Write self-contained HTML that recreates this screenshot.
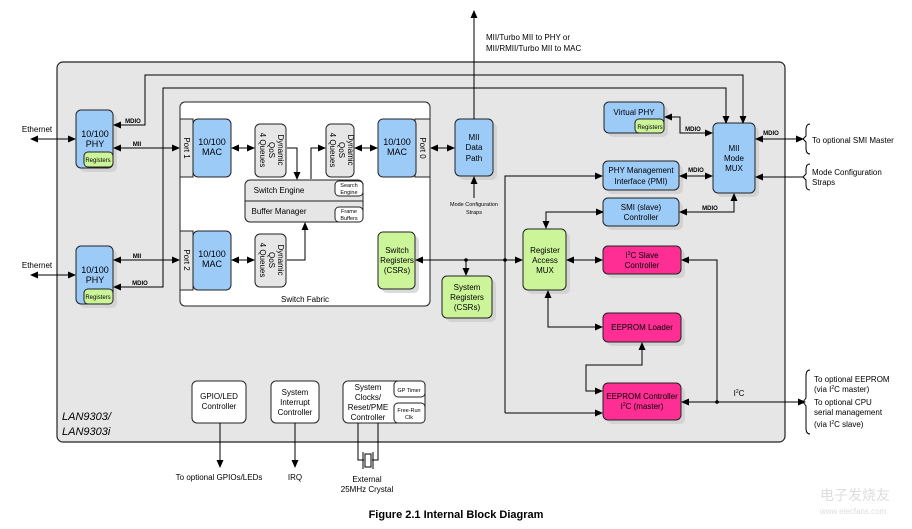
<!DOCTYPE html>
<html><head><meta charset="utf-8"><style>
body{margin:0;background:#fff}
svg{display:block;font-family:"Liberation Sans",Arial,sans-serif}
</style></head><body>
<svg width="912" height="529" viewBox="0 0 912 529">
<defs>
<marker id="a" markerWidth="8" markerHeight="8" refX="7" refY="4" orient="auto" markerUnits="userSpaceOnUse"><path d="M0,0.5 L8,4 L0,7.5z" fill="#000"/></marker>
<marker id="s" markerWidth="8" markerHeight="8" refX="1" refY="4" orient="auto" markerUnits="userSpaceOnUse"><path d="M8,0.5 L0,4 L8,7.5z" fill="#000"/></marker>
</defs>
<rect x="57" y="62" width="728" height="380" rx="6" fill="#e6e6e6" stroke="#222" stroke-width="1.2"/>
<rect x="180" y="102" width="250" height="204" rx="5" fill="#fff" stroke="#222"/>
<g fill="#ccc" opacity="0.7">
<rect x="80" y="114" width="37" height="58" rx="5"/><rect x="80" y="250" width="37" height="58" rx="5"/>
<rect x="459" y="123" width="38" height="57" rx="5"/><rect x="608" y="106" width="60" height="31" rx="5"/>
<rect x="717" y="127" width="42" height="70" rx="5"/><rect x="607" y="165" width="76" height="29" rx="5"/>
<rect x="607" y="202" width="76" height="28" rx="5"/><rect x="527" y="233" width="43" height="61" rx="5"/>
<rect x="607" y="250" width="78" height="28" rx="5"/><rect x="607" y="317" width="78" height="29" rx="5"/>
<rect x="607" y="387" width="78" height="37" rx="5"/><rect x="446" y="280" width="50" height="42" rx="5"/>
<rect x="382" y="236" width="37" height="57" rx="5"/>
</g>
<g stroke="#222" stroke-width="1">
<rect x="76" y="110" width="37" height="58" rx="5" fill="#9dcbf8"/>
<rect x="84" y="152" width="29" height="15" rx="4" fill="#ccf59a"/>
<rect x="76" y="246" width="37" height="58" rx="5" fill="#9dcbf8"/>
<rect x="84" y="289" width="29" height="15" rx="4" fill="#ccf59a"/>
<rect x="180" y="119" width="13" height="58" fill="#e6e6e6"/>
<rect x="193" y="119" width="38" height="58" rx="5" fill="#9dcbf8"/>
<rect x="255" y="124" width="31" height="53" rx="5" fill="#e6e6e6"/>
<rect x="326" y="124" width="28" height="53" rx="5" fill="#e6e6e6"/>
<rect x="415" y="119" width="15" height="58" fill="#e6e6e6"/>
<rect x="378" y="119" width="38" height="58" rx="5" fill="#9dcbf8"/>
<rect x="245" y="180" width="118" height="42" rx="5" fill="#e6e6e6"/>
<line x1="245" y1="201" x2="363" y2="201"/>
<rect x="335" y="181" width="28" height="15" rx="4" fill="#fff"/>
<rect x="335" y="207" width="28" height="15" rx="4" fill="#fff"/>
<rect x="180" y="231" width="13" height="59" fill="#e6e6e6"/>
<rect x="193" y="231" width="38" height="59" rx="5" fill="#9dcbf8"/>
<rect x="255" y="234" width="31" height="53" rx="5" fill="#e6e6e6"/>
<rect x="378" y="232" width="37" height="57" rx="5" fill="#ccf59a"/>
<rect x="455" y="119" width="38" height="57" rx="5" fill="#9dcbf8"/>
<rect x="604" y="102" width="60" height="31" rx="5" fill="#9dcbf8"/>
<rect x="635" y="119" width="29" height="14" rx="4" fill="#ccf59a"/>
<rect x="713" y="123" width="42" height="70" rx="5" fill="#9dcbf8"/>
<rect x="603" y="161" width="76" height="29" rx="5" fill="#9dcbf8"/>
<rect x="603" y="198" width="76" height="28" rx="5" fill="#9dcbf8"/>
<rect x="523" y="229" width="43" height="61" rx="5" fill="#ccf59a"/>
<rect x="603" y="246" width="78" height="28" rx="5" fill="#fe2e95"/>
<rect x="442" y="276" width="50" height="42" rx="5" fill="#ccf59a"/>
<rect x="603" y="313" width="78" height="29" rx="5" fill="#fe2e95"/>
<rect x="603" y="383" width="78" height="37" rx="5" fill="#fe2e95"/>
<rect x="192" y="381" width="54" height="42" rx="5" fill="#fff"/>
<rect x="271" y="381" width="48" height="42" rx="5" fill="#fff"/>
<rect x="343" y="381" width="82" height="42" rx="5" fill="#fff"/>
<rect x="394" y="381" width="31" height="16" rx="4" fill="#fff"/>
<rect x="394" y="403" width="31" height="20" rx="4" fill="#fff"/>
</g>
<g stroke="#000" stroke-width="1" fill="none">
<line x1="31" y1="139" x2="75" y2="139" marker-start="url(#s)" marker-end="url(#a)"/>
<line x1="31" y1="275" x2="75" y2="275" marker-start="url(#s)" marker-end="url(#a)"/>
<polyline points="743,123 743,75 145,75 145,125 114,125" marker-end="url(#a)" marker-start="url(#s)"/>
<polyline points="726,123 726,88 163,88 163,287 114,287" marker-end="url(#a)" marker-start="url(#s)"/>
<line x1="114" y1="148" x2="179" y2="148" marker-start="url(#s)" marker-end="url(#a)"/>
<line x1="114" y1="260" x2="179" y2="260" marker-start="url(#s)" marker-end="url(#a)"/>
<line x1="232" y1="148" x2="254" y2="148" marker-start="url(#s)" marker-end="url(#a)"/>
<line x1="355" y1="148" x2="377" y2="148" marker-start="url(#s)" marker-end="url(#a)"/>
<line x1="232" y1="260" x2="254" y2="260" marker-start="url(#s)" marker-end="url(#a)"/>
<polyline points="287,148 297,148 297,179" marker-end="url(#a)"/>
<polyline points="311,179 311,148 325,148" marker-end="url(#a)"/>
<polyline points="287,260 305,260 305,223" marker-end="url(#a)"/>
<line x1="431" y1="148" x2="454" y2="148" marker-start="url(#s)" marker-end="url(#a)"/>
<line x1="474" y1="119" x2="474" y2="11" marker-end="url(#a)"/>
<line x1="474" y1="198" x2="474" y2="177" marker-end="url(#a)"/>
<polyline points="712,133 680,133 680,117 665,117" marker-end="url(#a)"/>
<line x1="680" y1="133" x2="712" y2="133" marker-end="url(#a)"/>
<line x1="680" y1="176" x2="712" y2="176" marker-start="url(#s)" marker-end="url(#a)"/>
<polyline points="734,194 734,212 680,212" marker-start="url(#s)" marker-end="url(#a)"/>
<line x1="756" y1="139" x2="803" y2="139" marker-start="url(#s)" marker-end="url(#a)"/>
<line x1="803" y1="177" x2="756" y2="177" marker-end="url(#a)"/>
<polyline points="603,212 546,212 546,228" marker-start="url(#s)" marker-end="url(#a)"/>
<polyline points="505,413 505,176 602,176" marker-end="url(#a)"/>
<line x1="505" y1="413" x2="602" y2="413" marker-end="url(#a)"/>
<line x1="416" y1="260" x2="522" y2="260" marker-start="url(#s)" marker-end="url(#a)"/>
<line x1="466" y1="260" x2="466" y2="275" marker-end="url(#a)"/>
<line x1="567" y1="260" x2="602" y2="260" marker-start="url(#s)" marker-end="url(#a)"/>
<polyline points="717,402 717,260 682,260" marker-end="url(#a)"/>
<line x1="682" y1="402" x2="805" y2="402" marker-start="url(#s)" marker-end="url(#a)"/>
<polyline points="602,327 548,327 548,291" marker-end="url(#a)" marker-start="url(#s)"/>
<polyline points="602,391 586,391 586,365 642,365 642,343" marker-start="url(#s)" marker-end="url(#a)"/>
<line x1="220" y1="423" x2="220" y2="467" marker-end="url(#a)"/>
<line x1="295" y1="423" x2="295" y2="467" marker-end="url(#a)"/>
<polyline points="358,423 358,460 364,460"/><polyline points="378,423 378,460 372,460"/>
<rect x="365" y="454" width="6" height="13"/><line x1="363" y1="452" x2="363" y2="469"/><line x1="373" y1="452" x2="373" y2="469"/>
<path d="M810,124 q-4,0 -4,6 v6 l-3,3 l3,3 v6 q0,6 4,6"/>
<path d="M810,164 q-4,0 -4,5 v5 l-3,3 l3,3 v5 q0,5 4,5"/>
<path d="M810,370 q-4,0 -4,6 v22 l-3,4 l3,4 v22 q0,6 4,6"/>
</g>
<g fill="#000"><circle cx="466" cy="260" r="1.8"/><circle cx="505" cy="260" r="1.8"/><circle cx="717" cy="402" r="1.8"/></g>
<g font-size="8" text-anchor="middle" fill="#000">
<text x="37" y="132">Ethernet</text><text x="37" y="268">Ethernet</text>
<text x="95" y="137" font-size="9">10/100</text><text x="95" y="147" font-size="9">PHY</text>
<text x="98" y="162" font-size="6">Registers</text>
<text x="95" y="273" font-size="9">10/100</text><text x="95" y="283" font-size="9">PHY</text>
<text x="98" y="299" font-size="6">Registers</text>
<text x="133" y="123" font-size="6" font-weight="bold">MDIO</text>
<text x="137" y="146" font-size="6" font-weight="bold">MII</text>
<text x="137" y="258" font-size="6" font-weight="bold">MII</text>
<text x="140" y="285" font-size="6" font-weight="bold">MDIO</text>
<text x="212" y="145" font-size="9">10/100</text><text x="212" y="155" font-size="9">MAC</text>
<text x="397" y="145" font-size="9">10/100</text><text x="397" y="155" font-size="9">MAC</text>
<text x="212" y="257" font-size="9">10/100</text><text x="212" y="267" font-size="9">MAC</text>
<text transform="translate(184,148) rotate(90)" font-size="8">Port 1</text>
<text transform="translate(184,260) rotate(90)" font-size="8">Port 2</text>
<text transform="translate(420,148) rotate(90)" font-size="8">Port 0</text>
<g font-size="8">
<text transform="translate(270,150) rotate(90)"><tspan x="0" dy="-8">Dynamic</tspan><tspan x="0" dy="9">QoS</tspan><tspan x="0" dy="9">4 Queues</tspan></text>
<text transform="translate(340,150) rotate(90)"><tspan x="0" dy="-8">Dynamic</tspan><tspan x="0" dy="9">QoS</tspan><tspan x="0" dy="9">4 Queues</tspan></text>
<text transform="translate(270,260) rotate(90)"><tspan x="0" dy="-8">Dynamic</tspan><tspan x="0" dy="9">QoS</tspan><tspan x="0" dy="9">4 Queues</tspan></text>
</g>
<text x="279" y="193" text-anchor="middle">Switch Engine</text>
<text x="279" y="214">Buffer Manager</text>
<text x="349" y="187" font-size="5.5">Search</text><text x="349" y="194" font-size="5.5">Engine</text>
<text x="349" y="213" font-size="5.5">Frame</text><text x="349" y="220" font-size="5.5">Buffers</text>
<text x="305" y="302">Switch Fabric</text>
<text x="397" y="253">Switch</text><text x="397" y="263">Registers</text><text x="397" y="273">(CSRs)</text>
<text x="474" y="140">MII</text><text x="474" y="150">Data</text><text x="474" y="161">Path</text>
<text x="474" y="206" font-size="5.5">Mode Configuration</text><text x="474" y="214" font-size="5.5">Straps</text>
<text x="486" y="40" text-anchor="start">MII/Turbo MII to PHY or</text>
<text x="486" y="51" text-anchor="start">MII/RMII/Turbo MII to MAC</text>
<text x="634" y="115">Virtual PHY</text><text x="650" y="129" font-size="6">Registers</text>
<text x="693" y="131" font-size="6" font-weight="bold">MDIO</text>
<text x="696" y="172" font-size="6" font-weight="bold">MDIO</text>
<text x="710" y="210" font-size="6" font-weight="bold">MDIO</text>
<text x="771" y="135" font-size="6" font-weight="bold">MDIO</text>
<text x="734" y="151">MII</text><text x="734" y="161">Mode</text><text x="734" y="171">MUX</text>
<text x="641" y="173">PHY Management</text><text x="641" y="184">Interface (PMI)</text>
<text x="641" y="210">SMI (slave)</text><text x="641" y="220">Controller</text>
<text x="545" y="253">Register</text><text x="545" y="263">Access</text><text x="545" y="273">MUX</text>
<text x="642" y="258">I<tspan font-size="5" dy="-3">2</tspan><tspan dy="3">C Slave</tspan></text><text x="642" y="268">Controller</text>
<text x="467" y="290">System</text><text x="467" y="300">Registers</text><text x="467" y="310">(CSRs)</text>
<text x="642" y="330">EEPROM Loader</text>
<text x="642" y="399">EEPROM Controller</text><text x="642" y="409">I<tspan font-size="5" dy="-3">2</tspan><tspan dy="3">C (master)</tspan></text>
<text x="739" y="396">I<tspan font-size="5" dy="-3">2</tspan><tspan dy="3">C</tspan></text>
<text x="219" y="399">GPIO/LED</text><text x="219" y="409">Controller</text>
<text x="295" y="395">System</text><text x="295" y="405">Interrupt</text><text x="295" y="415">Controller</text>
<text x="368" y="390">System</text><text x="368" y="400">Clocks/</text><text x="368" y="410">Reset/PME</text><text x="368" y="420">Controller</text>
<text x="409" y="392" font-size="5.5">GP Timer</text>
<text x="409" y="412" font-size="5.5">Free-Run</text><text x="409" y="419" font-size="5.5">Clk</text>
<text x="219" y="480">To optional GPIOs/LEDs</text>
<text x="295" y="480">IRQ</text>
<text x="367" y="482">External</text><text x="367" y="492">25MHz Crystal</text>
<g text-anchor="start">
<text x="812" y="143">To optional SMI Master</text>
<text x="812" y="175">Mode Configuration</text><text x="812" y="185">Straps</text>
<text x="814" y="382">To optional EEPROM</text>
<text x="814" y="392">(via I<tspan font-size="5" dy="-3">2</tspan><tspan dy="3">C master)</tspan></text>
<text x="814" y="405">To optional CPU</text>
<text x="814" y="415">serial management</text>
<text x="814" y="427">(via I<tspan font-size="5" dy="-3">2</tspan><tspan dy="3">C slave)</tspan></text>
<text x="62" y="420" font-size="11" font-style="italic">LAN9303/</text>
<text x="62" y="435" font-size="11" font-style="italic">LAN9303i</text>
</g>
<text x="456" y="518" font-size="11" font-weight="bold">Figure 2.1 Internal Block Diagram</text>
</g>
<text x="820" y="500" font-family="'Noto Sans CJK SC',sans-serif" font-size="14" fill="#ddd">电子发烧友</text>
<text x="820" y="514" font-size="8" fill="#ddd">www.elecfans.com</text>
</svg>
</body></html>
